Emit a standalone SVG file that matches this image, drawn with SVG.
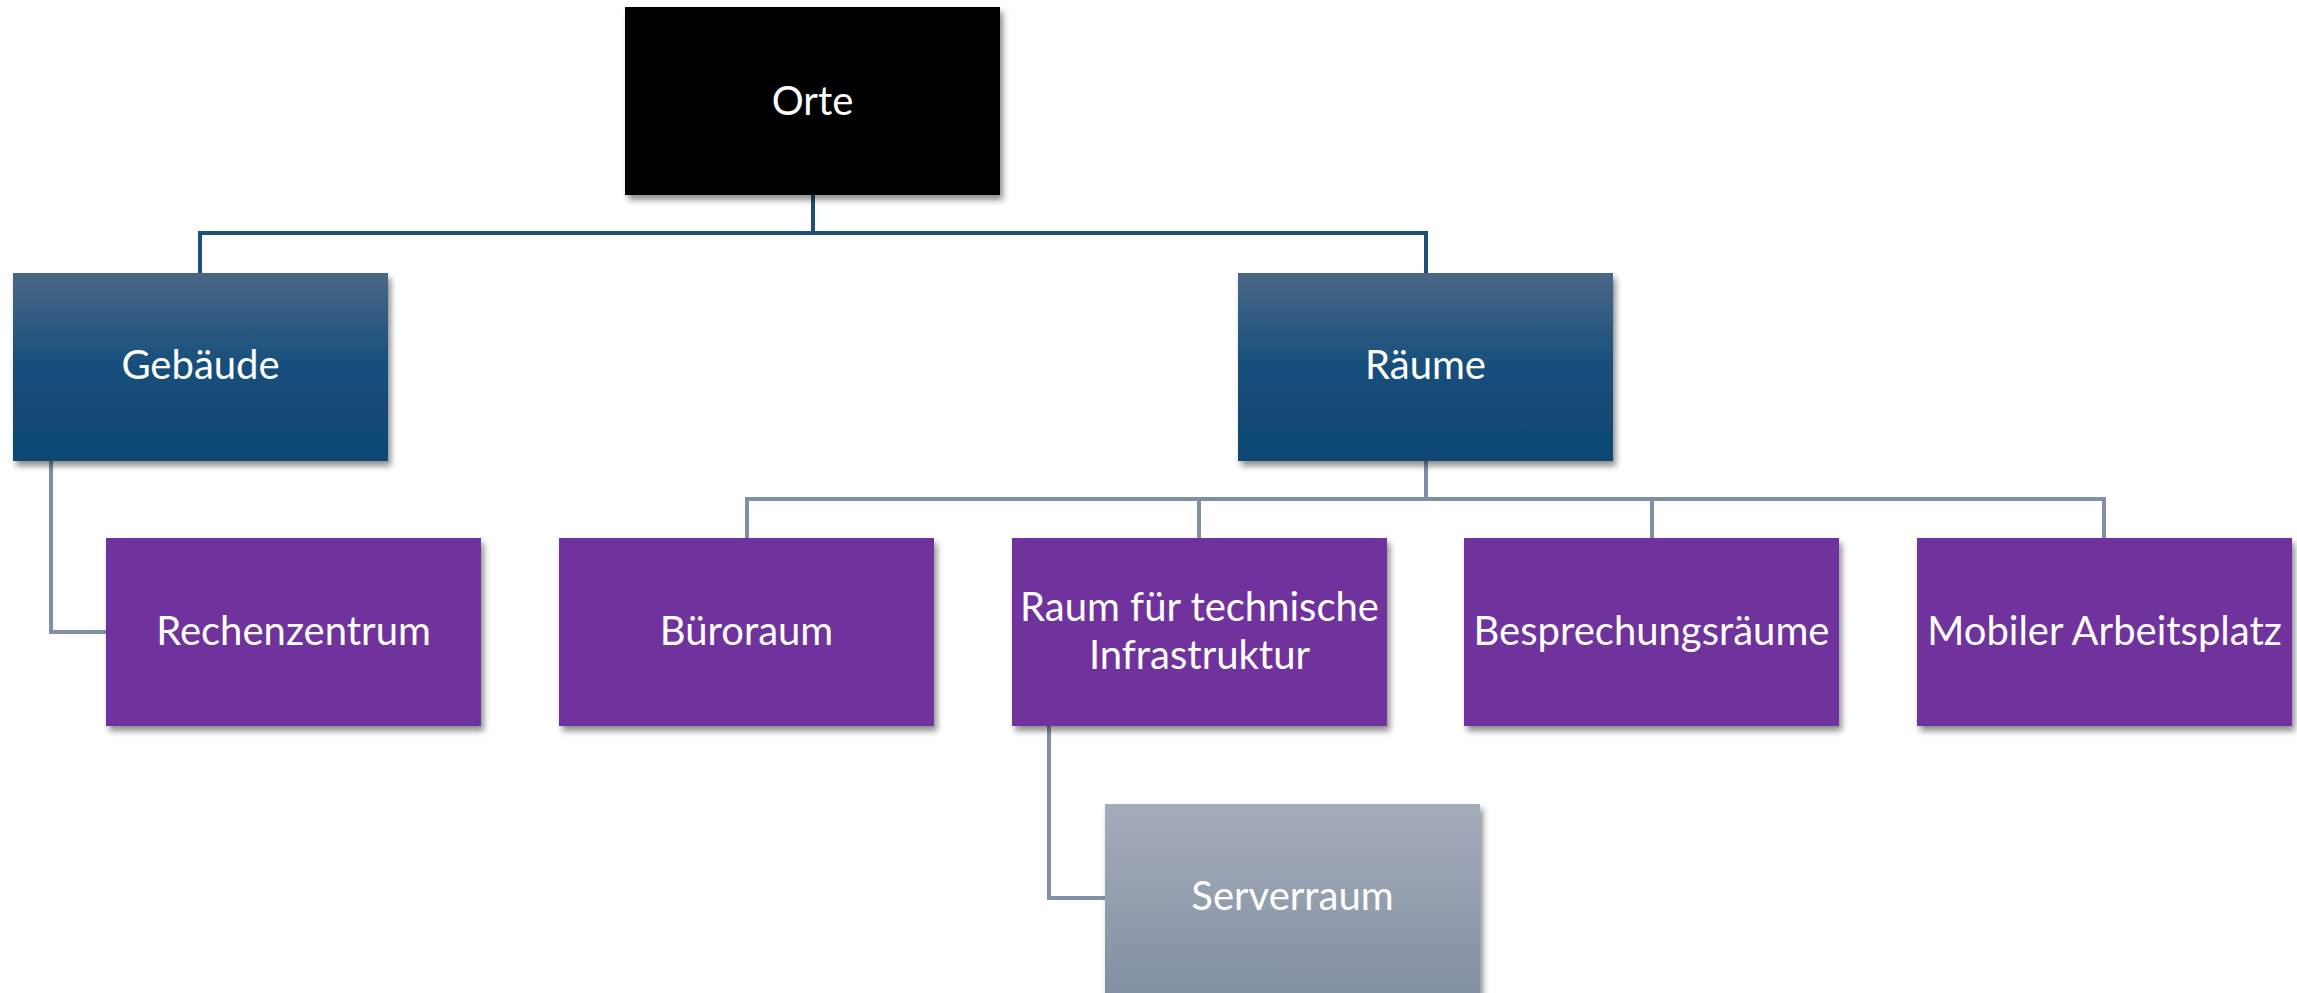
<svg xmlns="http://www.w3.org/2000/svg" width="2297" height="993" viewBox="0 0 2297 993">
<defs>
<linearGradient id="gBlue" x1="0" y1="0" x2="0" y2="1">
<stop offset="0" stop-color="#4b6788"/>
<stop offset="0.5" stop-color="#164f7c"/>
<stop offset="1" stop-color="#0f4672"/>
</linearGradient>
<linearGradient id="gGrey" x1="0" y1="0" x2="0" y2="1">
<stop offset="0" stop-color="#a3acbb"/>
<stop offset="1" stop-color="#818ea1"/>
</linearGradient>
<filter id="sh" x="-5%" y="-5%" width="112%" height="115%">
<feGaussianBlur in="SourceAlpha" stdDeviation="3"/>
<feOffset dx="3" dy="5" result="b"/>
<feComponentTransfer><feFuncA type="linear" slope="0.45"/></feComponentTransfer>
<feMerge><feMergeNode/><feMergeNode in="SourceGraphic"/></feMerge>
</filter>
</defs>
<style>
.lbl{font-family:Lato,"Noto Sans",sans-serif;font-size:40px;fill:#ffffff;text-anchor:middle}
.c1{fill:none;stroke:#1d4f7a;stroke-width:4}
.c2{fill:none;stroke:#8090a6;stroke-width:4}
.purple{fill:#70309d}
</style>
<rect width="2297" height="993" fill="#ffffff"/>
<g id="connectors">
<path class="c1" d="M813 195 V233 M200 273 V233 H1426 V273"/>
<path class="c2" d="M51 461 V632 H106"/>
<path class="c2" d="M1426 461 V499 M747 538 V499 H2104 V538 M1199 499 V538 M1652 499 V538"/>
<path class="c2" d="M1049 726 V898 H1105"/>
</g>
<g id="orte"><rect x="625" y="7" width="375" height="188" fill="#000000" filter="url(#sh)"/><text class="lbl" x="812.5" y="115">Orte</text></g>
<g id="gebaeude"><rect x="13" y="273" width="375" height="188" fill="url(#gBlue)" filter="url(#sh)"/><text class="lbl" x="200.5" y="379">Gebäude</text></g>
<g id="raeume"><rect x="1238" y="273" width="375" height="188" fill="url(#gBlue)" filter="url(#sh)"/><text class="lbl" x="1425.5" y="379">Räume</text></g>
<g id="rechenzentrum"><rect class="purple" x="106" y="538" width="375" height="188" filter="url(#sh)"/><text class="lbl" x="293.5" y="645">Rechenzentrum</text></g>
<g id="bueroraum"><rect class="purple" x="559" y="538" width="375" height="188" filter="url(#sh)"/><text class="lbl" x="746.5" y="645">Büroraum</text></g>
<g id="raumtech"><rect class="purple" x="1012" y="538" width="375" height="188" filter="url(#sh)"/><text class="lbl" x="1199.5" y="621">Raum für technische</text><text class="lbl" x="1199.5" y="669">Infrastruktur</text></g>
<g id="besprechung"><rect class="purple" x="1464" y="538" width="375" height="188" filter="url(#sh)"/><text class="lbl" x="1651.5" y="645">Besprechungsräume</text></g>
<g id="mobiler"><rect class="purple" x="1917" y="538" width="375" height="188" filter="url(#sh)"/><text class="lbl" x="2104.5" y="645">Mobiler Arbeitsplatz</text></g>
<g id="serverraum"><rect x="1105" y="804" width="375" height="200" fill="url(#gGrey)" filter="url(#sh)"/><text class="lbl" x="1292.5" y="910">Serverraum</text></g>
</svg>
